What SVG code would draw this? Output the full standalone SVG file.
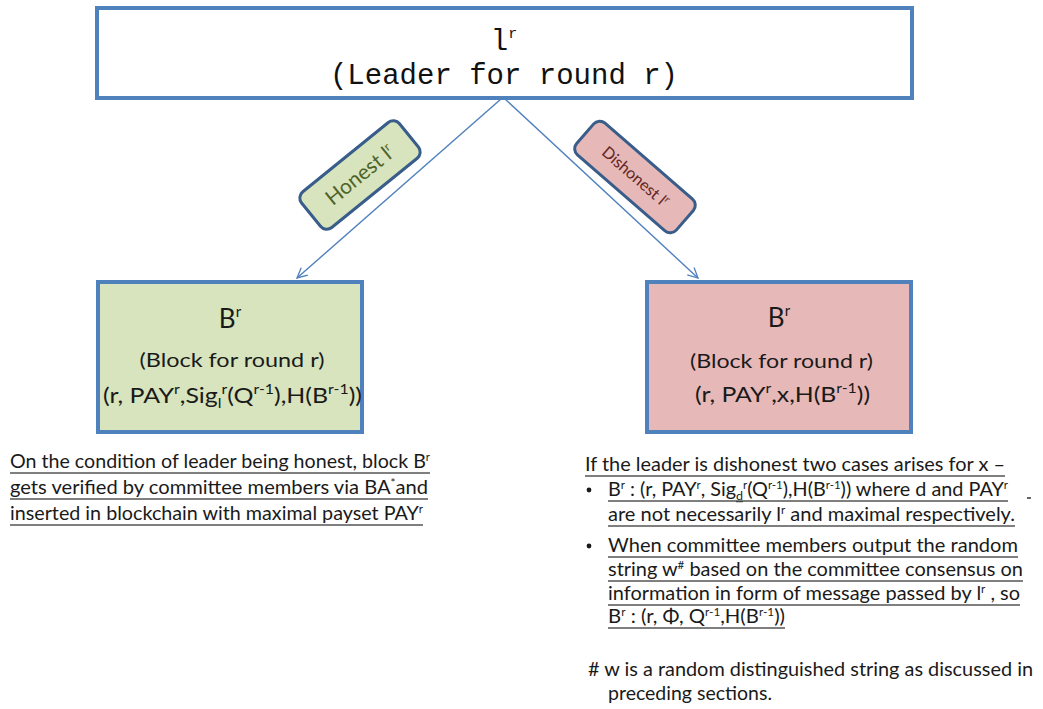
<svg xmlns="http://www.w3.org/2000/svg" width="1043" height="709" viewBox="0 0 1043 709">
  <defs>
    <marker id="arrow" viewBox="0 0 12 12" refX="11" refY="6" markerWidth="12" markerHeight="12" markerUnits="userSpaceOnUse" orient="auto">
      <path d="M1,1 L11,6 L1,11" fill="none" stroke="#4F81BD" stroke-width="1.3"/>
    </marker>
    <style>
      .box { stroke: #4F81BD; stroke-width: 4; }
      .tag { stroke: #385D8A; stroke-width: 3; }
      .conn { stroke: #4F81BD; stroke-width: 1.4; fill: none; }
      .mono { font-family: "Liberation Mono", "DejaVu Sans Mono", monospace; fill: #111; }
      .sans { font-family: Lato, "Liberation Sans", sans-serif; fill: #1a1a1a; }
      .ul { stroke: #555; stroke-width: 1.6; }
    </style>
  </defs>

  <rect width="1043" height="709" fill="#ffffff"/>

  <!-- connectors -->
  <g id="connectors">
    <line class="conn" x1="501" y1="99" x2="297" y2="278" marker-end="url(#arrow)"/>
    <line class="conn" x1="505" y1="99" x2="698" y2="278" marker-end="url(#arrow)"/>
  </g>

  <!-- leader -->
  <g id="leader">
    <rect class="box" x="97" y="8" width="815" height="90" fill="#ffffff"/>
    <text class="mono" x="504" y="50" font-size="29" text-anchor="middle">l<tspan font-size="15" dy="-12">r</tspan></text>
    <text class="mono" x="504" y="84" font-size="29" text-anchor="middle">(Leader for round r)</text>
  </g>

  <!-- edge tags -->
  <g id="tag-honest" transform="translate(360,175) rotate(-39)">
    <rect class="tag" x="-63" y="-23" width="126" height="46" rx="8" fill="#D7E4BD"/>
    <text class="sans" x="0" y="7" font-size="21" text-anchor="middle" style="fill:#4F6228">Honest l<tspan font-size="12" dy="-8">r</tspan></text>
  </g>
  <g id="tag-dishonest" transform="translate(635,177) rotate(41)">
    <rect class="tag" x="-66" y="-21" width="132" height="42" rx="8" fill="#E6B9B8"/>
    <text class="sans" x="0" y="5" font-size="16" text-anchor="middle" style="fill:#632523">Dishonest l<tspan font-size="10" dy="-6">r</tspan></text>
  </g>

  <!-- honest block -->
  <g id="block-honest">
    <rect class="box" x="98" y="282" width="264" height="150" fill="#D7E4BD"/>
    <text class="sans" x="230" y="328" font-size="26" text-anchor="middle">B<tspan font-size="15" dy="-11">r</tspan></text>
    <text class="sans" x="232" y="367" font-size="20" text-anchor="middle" textLength="185" lengthAdjust="spacingAndGlyphs">(Block for round r)</text>
    <text class="sans" x="103" y="403" font-size="22" textLength="259" lengthAdjust="spacingAndGlyphs">(r, PAY<tspan font-size="14" dy="-9">r</tspan><tspan dy="9">,Sig</tspan><tspan font-size="14" dy="5">l</tspan><tspan font-size="14" dy="-14">r</tspan><tspan dy="9">(Q</tspan><tspan font-size="14" dy="-9">r-1</tspan><tspan dy="9">),H(B</tspan><tspan font-size="14" dy="-9">r-1</tspan><tspan dy="9">))</tspan></text>
  </g>

  <!-- dishonest block -->
  <g id="block-dishonest">
    <rect class="box" x="647" y="282" width="264" height="150" fill="#E6B9B8"/>
    <text class="sans" x="779" y="327" font-size="26" text-anchor="middle">B<tspan font-size="15" dy="-11">r</tspan></text>
    <text class="sans" x="690" y="368" font-size="20" textLength="183" lengthAdjust="spacingAndGlyphs">(Block for round r)</text>
    <text class="sans" x="695" y="402" font-size="22" textLength="175" lengthAdjust="spacingAndGlyphs">(r, PAY<tspan font-size="14" dy="-9">r</tspan><tspan dy="9">,x,H(B</tspan><tspan font-size="14" dy="-9">r-1</tspan><tspan dy="9">))</tspan></text>
  </g>

  <!-- honest note -->
  <g id="note-honest">
    <text class="sans" x="10" y="468" font-size="19" textLength="420" lengthAdjust="spacingAndGlyphs">On the condition of leader being honest, block B<tspan font-size="11" dy="-7">r</tspan></text>
    <text class="sans" x="10" y="494" font-size="19" textLength="418" lengthAdjust="spacingAndGlyphs">gets verified by committee members via BA<tspan font-size="11" dy="-7">*</tspan><tspan dy="7">and</tspan></text>
    <text class="sans" x="10" y="520" font-size="19" textLength="413" lengthAdjust="spacingAndGlyphs">inserted in blockchain with maximal payset PAY<tspan font-size="11" dy="-7">r</tspan></text>
    <line class="ul" x1="10" y1="473" x2="430" y2="473"/>
    <line class="ul" x1="10" y1="499" x2="428" y2="499"/>
    <line class="ul" x1="10" y1="525" x2="423" y2="525"/>
  </g>

  <!-- dishonest note -->
  <g id="note-dishonest">
    <text class="sans" x="585" y="471" font-size="19" textLength="420" lengthAdjust="spacingAndGlyphs">If the leader is dishonest two cases arises for x –</text>
    <line class="ul" x1="585" y1="476" x2="1005" y2="476"/>

    <circle cx="589" cy="490" r="2.4" fill="#1a1a1a"/>
    <text class="sans" x="608" y="496" font-size="19" textLength="400" lengthAdjust="spacingAndGlyphs">B<tspan font-size="11" dy="-7">r</tspan><tspan dy="7"> : (r, PAY</tspan><tspan font-size="11" dy="-7">r</tspan><tspan dy="7">, Sig</tspan><tspan font-size="12" dy="4" text-decoration="underline">d</tspan><tspan font-size="11" dy="-11">r</tspan><tspan dy="7">(Q</tspan><tspan font-size="11" dy="-7">r-1</tspan><tspan dy="7">),H(B</tspan><tspan font-size="11" dy="-7">r-1</tspan><tspan dy="7">)) where d and PAY</tspan><tspan font-size="11" dy="-7">r</tspan></text>
    <line class="ul" x1="608" y1="501" x2="1008" y2="501"/>
    <line x1="1027" y1="498" x2="1031" y2="498" stroke="#333" stroke-width="1.5"/>
    <text class="sans" x="608" y="521" font-size="19" textLength="407" lengthAdjust="spacingAndGlyphs">are not necessarily l<tspan font-size="11" dy="-7">r</tspan><tspan dy="7"> and maximal respectively.</tspan></text>
    <line class="ul" x1="608" y1="526" x2="1015" y2="526"/>

    <circle cx="589" cy="546" r="2.4" fill="#1a1a1a"/>
    <text class="sans" x="608" y="552" font-size="19" textLength="410" lengthAdjust="spacingAndGlyphs">When committee members output the random</text>
    <line class="ul" x1="608" y1="557" x2="1018" y2="557"/>
    <text class="sans" x="608" y="576" font-size="19" textLength="415" lengthAdjust="spacingAndGlyphs">string w<tspan font-size="11" dy="-7">#</tspan><tspan dy="7"> based on the committee consensus on</tspan></text>
    <line class="ul" x1="608" y1="581" x2="1023" y2="581"/>
    <text class="sans" x="608" y="600" font-size="19" textLength="412" lengthAdjust="spacingAndGlyphs">information in form of message passed by l<tspan font-size="11" dy="-7">r</tspan><tspan dy="7"> , so</tspan></text>
    <line class="ul" x1="608" y1="605" x2="1020" y2="605"/>
    <text class="sans" x="608" y="623" font-size="19" textLength="177" lengthAdjust="spacingAndGlyphs">B<tspan font-size="11" dy="-7">r</tspan><tspan dy="7"> : (r, Φ, Q</tspan><tspan font-size="11" dy="-7">r-1</tspan><tspan dy="7">,H(B</tspan><tspan font-size="11" dy="-7">r-1</tspan><tspan dy="7">))</tspan></text>
    <line class="ul" x1="608" y1="628" x2="785" y2="628"/>
  </g>

  <!-- footnote -->
  <g id="footnote">
    <text class="sans" x="588" y="676" font-size="19" textLength="445" lengthAdjust="spacingAndGlyphs"># w is a random distinguished string as discussed in</text>
    <text class="sans" x="608" y="700" font-size="19" textLength="164" lengthAdjust="spacingAndGlyphs">preceding sections.</text>
  </g>
</svg>
